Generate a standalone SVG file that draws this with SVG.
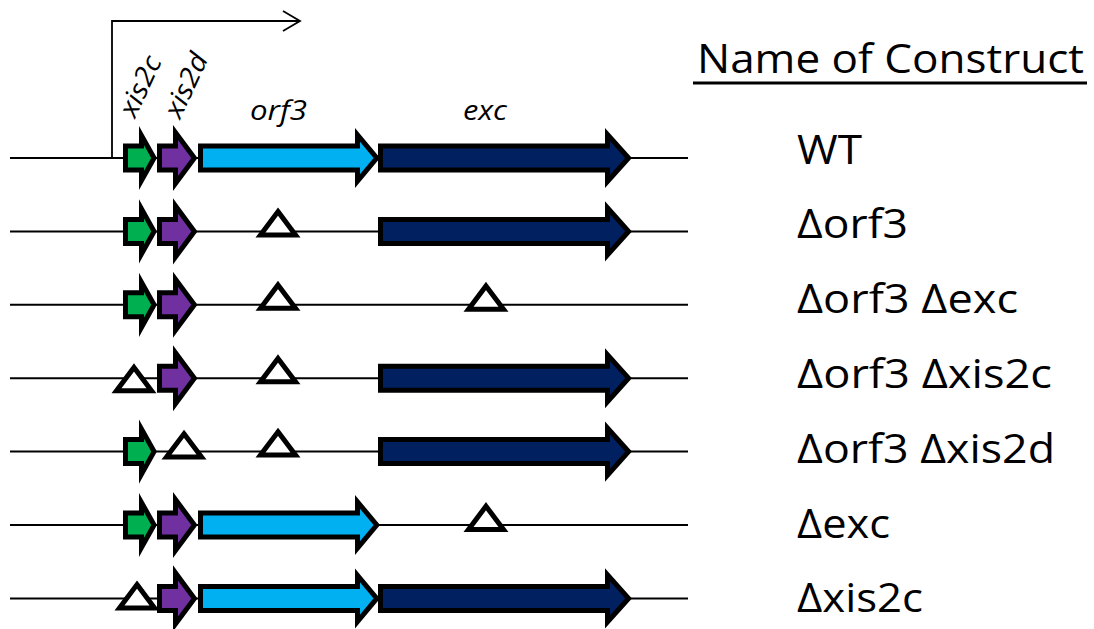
<svg xmlns="http://www.w3.org/2000/svg" xmlns:xlink="http://www.w3.org/1999/xlink" width="1094" height="629" viewBox="0 0 1094 629">
  <style>
    .dna { stroke: #000; stroke-width: 2; fill: none; }
    .gene { stroke: #000; stroke-width: 5; stroke-linejoin: miter; stroke-miterlimit: 10; }
    .xis2c { fill: #00B050; }
    .xis2d { fill: #7030A0; }
    .orf3 { fill: #00B0F0; }
    .exc { fill: #002060; }
    .del { fill: #fff; stroke: #000; stroke-width: 5; stroke-linejoin: miter; stroke-miterlimit: 10; }
    .promoter { stroke: #000; stroke-width: 1.8; fill: none; }
    .gname { font-family: "Open Sans", "Liberation Sans", sans-serif; font-style: italic; font-size: 27px; fill: #000; }
    .label { font-family: "Open Sans", "Liberation Sans", sans-serif; font-size: 40px; fill: #000; }
  </style>
  <defs>
    <!-- gene arrows, drawn on a row whose DNA line sits at y = 0 -->
    <path id="a-xis2c" class="gene xis2c" d="M125.5,-12 H141.5 V-22.5 L154.1,0 L141.5,22.5 V12 H125.5 Z"/>
    <path id="a-xis2d" class="gene xis2d" d="M159.5,-12 H175.5 V-25.5 L194.4,0 L175.5,25.5 V12 H159.5 Z"/>
    <path id="a-orf3" class="gene orf3" d="M200.5,-12 H357.5 V-23.1 L376.8,0 L357.5,23.1 V12 H200.5 Z"/>
    <path id="a-exc" class="gene exc" d="M380.5,-12 H607.5 V-23.5 L628.6,0 L607.5,23.5 V12 H380.5 Z"/>
    <!-- deletion marker, centred on x = 0 -->
    <path id="tri" class="del" d="M0,-19.8 L17.5,3.5 L-17.5,3.5 Z"/>
  </defs>

  <!-- transcription start arrow -->
  <g id="connectors">
    <path class="promoter" d="M112,158 V21 H299"/>
    <path class="promoter" d="M283,11 L300,21 L283,31"/>
  </g>

  <!-- gene names -->
  <g id="gene-names">
    <text class="gname" transform="translate(135,119) rotate(-65)" textLength="64" lengthAdjust="spacingAndGlyphs">xis2c</text>
    <text class="gname" transform="translate(180,120) rotate(-65)" textLength="68" lengthAdjust="spacingAndGlyphs">xis2d</text>
    <text class="gname" x="250" y="120" textLength="57" lengthAdjust="spacingAndGlyphs">orf3</text>
    <text class="gname" x="463" y="120" textLength="44" lengthAdjust="spacingAndGlyphs">exc</text>
  </g>

  <!-- column header -->
  <g id="header">
    <text class="label" x="697" y="73" textLength="387" lengthAdjust="spacingAndGlyphs">Name of Construct</text>
    <line x1="693" y1="83" x2="1087" y2="83" stroke="#000" stroke-width="3"/>
  </g>

  <g id="row-wt" transform="translate(0,158)">
    <line class="dna" x1="10" y1="0" x2="688" y2="0"/>
    <use xlink:href="#a-xis2c"/>
    <use xlink:href="#a-xis2d"/>
    <use xlink:href="#a-orf3"/>
    <use xlink:href="#a-exc"/>
    <text class="label" x="797" y="6" textLength="65" lengthAdjust="spacingAndGlyphs">WT</text>
  </g>

  <g id="row-d-orf3" transform="translate(0,231.4)">
    <line class="dna" x1="10" y1="0" x2="688" y2="0"/>
    <use xlink:href="#a-xis2c"/>
    <use xlink:href="#a-xis2d"/>
    <use xlink:href="#tri" x="278"/>
    <use xlink:href="#a-exc"/>
    <text class="label" x="797" y="7" textLength="111" lengthAdjust="spacingAndGlyphs">Δorf3</text>
  </g>

  <g id="row-d-orf3-exc" transform="translate(0,304.8)">
    <line class="dna" x1="10" y1="0" x2="688" y2="0"/>
    <use xlink:href="#a-xis2c"/>
    <use xlink:href="#a-xis2d"/>
    <use xlink:href="#tri" x="278"/>
    <use xlink:href="#tri" x="486" y="1"/>
    <text class="label" x="797" y="8" textLength="221" lengthAdjust="spacingAndGlyphs">Δorf3 Δexc</text>
  </g>

  <g id="row-d-orf3-xis2c" transform="translate(0,378.2)">
    <line class="dna" x1="10" y1="0" x2="688" y2="0"/>
    <use xlink:href="#tri" x="134" y="9"/>
    <use xlink:href="#a-xis2d"/>
    <use xlink:href="#tri" x="278"/>
    <use xlink:href="#a-exc"/>
    <text class="label" x="797" y="10" textLength="255" lengthAdjust="spacingAndGlyphs">Δorf3 Δxis2c</text>
  </g>

  <g id="row-d-orf3-xis2d" transform="translate(0,451.6)">
    <line class="dna" x1="10" y1="0" x2="688" y2="0"/>
    <use xlink:href="#a-xis2c"/>
    <use xlink:href="#tri" x="184" y="2"/>
    <use xlink:href="#tri" x="278"/>
    <use xlink:href="#a-exc"/>
    <text class="label" x="797" y="11" textLength="258" lengthAdjust="spacingAndGlyphs">Δorf3 Δxis2d</text>
  </g>

  <g id="row-d-exc" transform="translate(0,525)">
    <line class="dna" x1="10" y1="0" x2="688" y2="0"/>
    <use xlink:href="#a-xis2c"/>
    <use xlink:href="#a-xis2d"/>
    <use xlink:href="#a-orf3"/>
    <use xlink:href="#tri" x="486" y="1"/>
    <text class="label" x="797" y="13" textLength="93" lengthAdjust="spacingAndGlyphs">Δexc</text>
  </g>

  <g id="row-d-xis2c" transform="translate(0,598.4)">
    <line class="dna" x1="10" y1="0" x2="688" y2="0"/>
    <use xlink:href="#tri" x="137" y="6"/>
    <use xlink:href="#a-xis2d"/>
    <use xlink:href="#a-orf3"/>
    <use xlink:href="#a-exc"/>
    <text class="label" x="797" y="14" textLength="126" lengthAdjust="spacingAndGlyphs">Δxis2c</text>
  </g>
</svg>
